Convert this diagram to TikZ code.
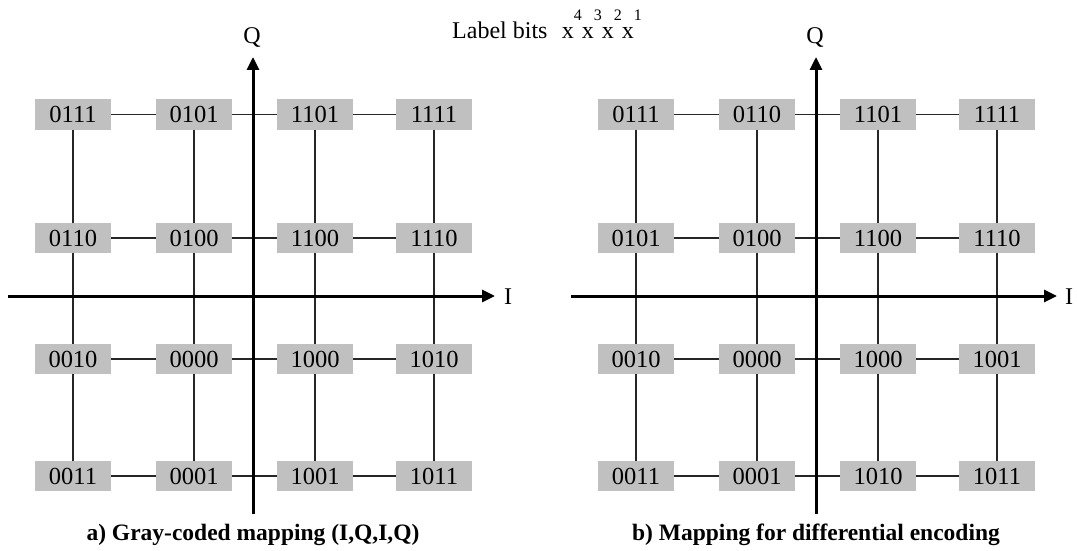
\documentclass[tikz,border=0pt]{standalone}
\usepackage{fontspec}
\setmainfont{Liberation Serif}
\usetikzlibrary{arrows.meta}
\definecolor{boxgray}{RGB}{192,192,192}
\tikzset{
  pt/.style={fill=boxgray, minimum width=76pt, minimum height=30pt, inner sep=0pt,
    font=\fontsize{24.5}{26}\selectfont},
  conn/.style={line width=1.1pt, draw=black!85},
  axis/.style={line width=3pt, -{Triangle[length=13pt,width=12pt]}},
  axlabel/.style={font=\fontsize{24}{26}\selectfont},
  caption/.style={font=\fontsize{23.5}{26}\selectfont\bfseries}
}
\begin{document}
\begin{tikzpicture}[x=1pt,y=-1pt]
\useasboundingbox (0,0) rectangle (1077,551);
% left panel nodes
\foreach \lab [count=\i from 0] in {0111,0101,1101,1111,0110,0100,1100,1110,0010,0000,1000,1010,0011,0001,1001,1011}{
  \pgfmathtruncatemacro{\r}{int(\i/4)}
  \pgfmathtruncatemacro{\c}{mod(\i,4)}
  \pgfmathsetmacro{\xx}{{73,194,315,434}[\c]}
  \pgfmathsetmacro{\yy}{{114.5,238,359,476}[\r]}
  \node[pt] (L-\r-\c) at (\xx,\yy) {\lab};
}
% right panel nodes
\foreach \lab [count=\i from 0] in {0111,0110,1101,1111,0101,0100,1100,1110,0010,0000,1000,1001,0011,0001,1010,1011}{
  \pgfmathtruncatemacro{\r}{int(\i/4)}
  \pgfmathtruncatemacro{\c}{mod(\i,4)}
  \pgfmathsetmacro{\xx}{{636,757,878,997}[\c]}
  \pgfmathsetmacro{\yy}{{114.5,238,359,476}[\r]}
  \node[pt] (R-\r-\c) at (\xx,\yy) {\lab};
}
% connectors
\foreach \p in {L,R}{
  \foreach \r in {0,...,3}{
    \foreach \c/\d in {0/1,1/2,2/3}{
      \draw[conn] (\p-\r-\c.east) -- (\p-\r-\d.west);
    }
  }
  \foreach \c in {0,...,3}{
    \foreach \r/\s in {0/1,1/2,2/3}{
      \draw[conn] (\p-\r-\c.south) -- (\p-\s-\c.north);
    }
  }
}
% axes
\coordinate (Lqb) at (253,514);
\coordinate (Lqt) at (253,57);
\coordinate (Lil) at (8,296);
\coordinate (Lir) at (495,296);
\coordinate (Rqb) at (816,514);
\coordinate (Rqt) at (816,57);
\coordinate (Ril) at (571,296);
\coordinate (Rir) at (1057,296);
\draw[axis] (Lqb) -- (Lqt);
\draw[axis] (Lil) -- (Lir);
\draw[axis] (Rqb) -- (Rqt);
\draw[axis] (Ril) -- (Rir);
\node[axlabel] (LQ) at (252,38) {Q};
\node[axlabel] (LI) at (508,297) {I};
\node[axlabel] (RQ) at (815,38) {Q};
\node[axlabel] (RI) at (1069,297) {I};
% title
\node[axlabel, anchor=base west, inner sep=0pt] (title) at (452,39) {Label bits\hspace{0.6em}x\raisebox{0.75em}{\fontsize{16}{17}\selectfont 4}x\raisebox{0.75em}{\fontsize{16}{17}\selectfont 3}x\raisebox{0.75em}{\fontsize{16}{17}\selectfont 2}x\raisebox{0.75em}{\fontsize{16}{17}\selectfont 1}};
% captions
\node[caption] (capa) at (253,535) {a) Gray-coded mapping (I,Q,I,Q)};
\node[caption] (capb) at (816,535) {b) Mapping for differential encoding};
\end{tikzpicture}
\end{document}
